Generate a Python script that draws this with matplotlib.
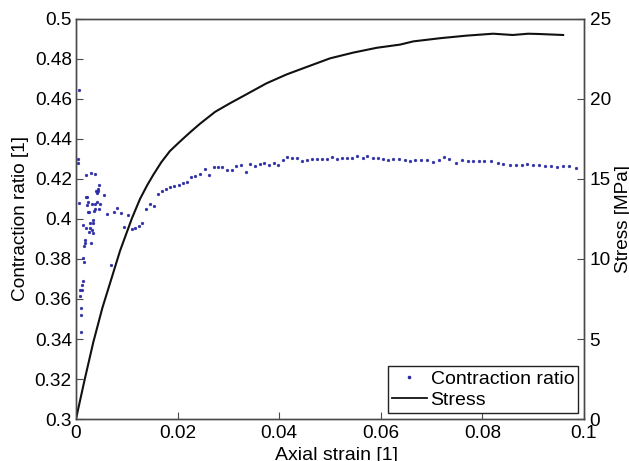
import matplotlib
matplotlib.use("Agg")
import matplotlib.pyplot as plt
from matplotlib.lines import Line2D

plt.rcParams["font.family"] = ["Liberation Sans", "DejaVu Sans"]

# ── Data ──────────────────────────────────────────────────────────────────

# contraction ratio samples (axial strain, ratio)
ratio_strain = [
    0.00053, 0.00045, 0.00033, 0.00053, 0.00093, 0.00093, 0.00104, 0.00073,
    0.00079, 0.00118, 0.00132, 0.00118, 0.00138, 0.00157, 0.00163, 0.00183,
    0.00171, 0.00289, 0.00262, 0.00329, 0.00144, 0.00191, 0.00276, 0.00315,
    0.00329, 0.00276, 0.00335, 0.00368, 0.00447, 0.00348, 0.00236, 0.00256,
    0.00230, 0.00222, 0.00321, 0.00368, 0.00407, 0.00472, 0.00197, 0.00217,
    0.00545, 0.00427, 0.00400, 0.00433, 0.00419, 0.00459, 0.00197, 0.00295,
    0.00374, 0.00683, 0.00604, 0.00742, 0.00813, 0.00886, 0.00951, 0.01024,
    0.01096, 0.01167, 0.01240, 0.01305, 0.01388, 0.01457, 0.01535, 0.01610,
    0.01689, 0.01772, 0.01850, 0.01939, 0.02024, 0.02106, 0.02189, 0.02264,
    0.02348, 0.02435, 0.02533, 0.02618, 0.02711, 0.02795, 0.02880, 0.02972,
    0.03065, 0.03156, 0.03242, 0.03341, 0.03431, 0.03524, 0.03616, 0.03707,
    0.03799, 0.03892, 0.03982, 0.04081, 0.04163, 0.04262, 0.04354, 0.04453,
    0.04547, 0.04646, 0.04740, 0.04843, 0.04941, 0.05033, 0.05132, 0.05230,
    0.05331, 0.05427, 0.05526, 0.05644, 0.05734, 0.05841, 0.05939, 0.06043,
    0.06148, 0.06246, 0.06364, 0.06476, 0.06575, 0.06679, 0.06785, 0.06904,
    0.07022, 0.07140, 0.07244, 0.07348, 0.07480, 0.07593, 0.07722, 0.07821,
    0.07933, 0.08037, 0.08163, 0.08301, 0.08411, 0.08543, 0.08661, 0.08774,
    0.08884, 0.09002, 0.09120, 0.09232, 0.09344, 0.09463, 0.09581, 0.09699,
    0.09843,
]
ratio = [
    0.4647, 0.4299, 0.4279, 0.4082, 0.3434, 0.3520, 0.3554, 0.3617,
    0.3645, 0.3645, 0.3690, 0.3670, 0.3807, 0.3784, 0.3865, 0.3895,
    0.3882, 0.3882, 0.3935, 0.3932, 0.3970, 0.3954, 0.3954, 0.3945,
    0.3995, 0.3982, 0.3979, 0.4052, 0.4049, 0.4039, 0.4035, 0.4037,
    0.4084, 0.4069, 0.4077, 0.4077, 0.4084, 0.4075, 0.4112, 0.4112,
    0.4122, 0.4149, 0.4142, 0.4139, 0.4129, 0.4169, 0.4220, 0.4232,
    0.4224, 0.3772, 0.4027, 0.4037, 0.4054, 0.4030, 0.3962, 0.4022,
    0.3949, 0.3954, 0.3967, 0.3979, 0.4048, 0.4074, 0.4067, 0.4123,
    0.4141, 0.4149, 0.4159, 0.4165, 0.4169, 0.4179, 0.4184, 0.4210,
    0.4217, 0.4225, 0.4249, 0.4222, 0.4260, 0.4262, 0.4260, 0.4247,
    0.4245, 0.4265, 0.4270, 0.4234, 0.4275, 0.4265, 0.4274, 0.4282,
    0.4272, 0.4280, 0.4270, 0.4295, 0.4309, 0.4304, 0.4303, 0.4291,
    0.4296, 0.4298, 0.4299, 0.4299, 0.4298, 0.4310, 0.4301, 0.4305,
    0.4304, 0.4305, 0.4317, 0.4305, 0.4317, 0.4307, 0.4304, 0.4300,
    0.4295, 0.4299, 0.4302, 0.4295, 0.4290, 0.4294, 0.4295, 0.4295,
    0.4284, 0.4295, 0.4309, 0.4302, 0.4282, 0.4295, 0.4289, 0.4289,
    0.4290, 0.4290, 0.4290, 0.4279, 0.4275, 0.4269, 0.4272, 0.4272,
    0.4274, 0.4272, 0.4270, 0.4267, 0.4267, 0.4259, 0.4264, 0.4264,
    0.4257,
]

# stress-strain curve
stress_strain = [
    0.0, 0.00170, 0.00341, 0.00520, 0.00690, 0.00866, 0.01102, 0.01260,
    0.01400, 0.01520, 0.01680, 0.01850, 0.02050, 0.02240, 0.02440, 0.02740,
    0.03030, 0.03360, 0.03750, 0.04150, 0.04540, 0.05000, 0.05460, 0.05920,
    0.06380, 0.06640, 0.07170, 0.07690, 0.08210, 0.08600, 0.08900, 0.09130,
    0.09590,
]
stress = [
    0.0, 2.45, 4.80, 6.95, 8.69, 10.50, 12.55, 13.75,
    14.60, 15.25, 16.05, 16.75, 17.35, 17.90, 18.45, 19.20,
    19.73, 20.30, 20.98, 21.54, 22.00, 22.54, 22.90, 23.20,
    23.40, 23.60, 23.80, 23.96, 24.08, 24.00, 24.08, 24.06,
    24.00,
]

x_ticks = [0, 0.02, 0.04, 0.06, 0.08, 0.1]
x_labels = ["0", "0.02", "0.04", "0.06", "0.08", "0.1"]
ratio_ticks = [0.3, 0.32, 0.34, 0.36, 0.38, 0.4, 0.42, 0.44, 0.46, 0.48, 0.5]
ratio_labels = ["0.3", "0.32", "0.34", "0.36", "0.38", "0.4",
                "0.42", "0.44", "0.46", "0.48", "0.5"]
stress_ticks = [0, 5, 10, 15, 20, 25]

# ── Style ─────────────────────────────────────────────────────────────────

FS = 13.7
BLUE = "#2b2ba6"
EDGE = "#4a4a4a"

fig = plt.figure(figsize=(6.29, 4.61), dpi=100, facecolor="white")
ax = fig.add_axes([0.1208, 0.0911, 0.8076, 0.8677])
ax2 = ax.twinx()

ax.plot(ratio_strain, ratio, linestyle="none", marker="o", ms=2.0,
        mfc=BLUE, mec=BLUE, mew=0.3, zorder=3)
ax2.plot(stress_strain, stress, color="#111111", lw=1.5, zorder=2)

ax.set_xlim(0, 0.1)
ax.set_ylim(0.3, 0.5)
ax2.set_ylim(0, 25)

ax.set_xticks(x_ticks)
ax.set_xticklabels(x_labels)
ax.set_yticks(ratio_ticks)
ax.set_yticklabels(ratio_labels)
ax2.set_yticks(stress_ticks)

ax.tick_params(axis="both", direction="in", length=5, width=0.8,
               color=EDGE, labelsize=FS, pad=3)
ax.tick_params(axis="x", pad=4)
ax2.tick_params(axis="y", direction="in", length=5, width=0.8,
                color=EDGE, labelsize=FS, pad=4)

for a in (ax, ax2):
    for spine in a.spines.values():
        spine.set_color(EDGE)
        spine.set_linewidth(1.0)

ax.set_xlabel("Axial strain [1]", fontsize=14, labelpad=4)
ax.xaxis.label.set_x(0.512)
ax.set_ylabel("Contraction ratio [1]", fontsize=FS, labelpad=4)
ax2.set_ylabel("Stress [MPa]", fontsize=FS, labelpad=3)

handles = [
    Line2D([], [], linestyle="none", marker="o", ms=1.6, mfc=BLUE, mec=BLUE),
    Line2D([], [], color="#111111", lw=1.3),
]
leg = ax2.legend(handles, ["Contraction ratio", "Stress"], loc="lower right",
                 fontsize=14, frameon=True, fancybox=False, framealpha=1,
                 edgecolor="#222222", borderpad=0.2, labelspacing=0.2,
                 handlelength=1.8, handletextpad=0.2, borderaxespad=0.3)
leg.get_frame().set_linewidth(1.0)

fig.savefig("out.png", dpi=100, facecolor="white")
